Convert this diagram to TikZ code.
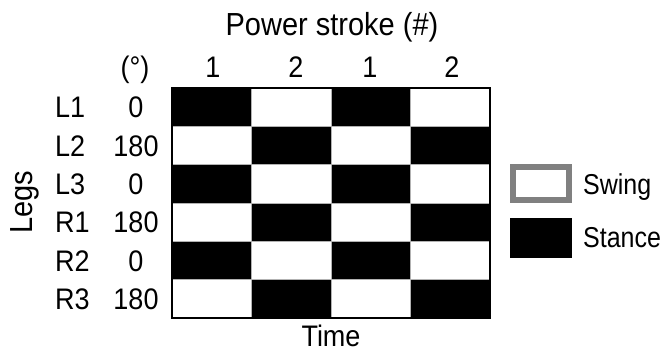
\documentclass[tikz,border=0pt]{standalone}
\usepackage{graphicx}
\usepackage{fontspec}
\setmainfont{Liberation Sans}
\newcommand{\tallt}[2][1.1]{\scalebox{1}[#1]{#2}}
\begin{document}
\begin{tikzpicture}[x=1bp,y=-1bp,
  lbl/.style={font=\fontsize{27bp}{32bp}\selectfont, inner sep=0pt, anchor=base},
  lblw/.style={lbl, anchor=base west},
  biglbl/.style={lbl, font=\fontsize{29bp}{34bp}\selectfont},
  leglbl/.style={lblw, font=\fontsize{25bp}{30bp}\selectfont},
  stancecell/.style={fill=black},
  gridline/.style={draw=gray!60, line width=0.8bp},
  frame/.style={draw=black, line width=2bp}]
\useasboundingbox (0,0) rectangle (661,351);
\fill[white] (0,0) rectangle (661,351);
% cells
\def\cw{79.5}
\def\rh{38.333}
\foreach \i in {0,...,5}{
  \foreach \j in {0,...,3}{
    \pgfmathtruncatemacro{\cellpar}{mod(\i+\j,2)}
    \ifnum\cellpar=0
      \fill[stancecell] ({172+\j*\cw},{88+\i*\rh}) rectangle ({172+(\j+1)*\cw},{88+(\i+1)*\rh});
    \fi
  }
}
\foreach \j in {1,2,3}{
  \draw[gridline] ({172+\j*\cw},88) -- ({172+\j*\cw},318);
}
\foreach \i in {1,...,5}{
  \draw[gridline] (172,{88+\i*\rh}) -- (490,{88+\i*\rh});
}
\draw[frame] (172,88) rectangle (490,318);
% titles
\node[biglbl] (title) at (332,35) {\tallt{Power stroke (\#)}};
\node[lbl] (time) at (331,346) {\tallt{Time}};
\node[biglbl, rotate=90] (legs) at (32,202) {\tallt{Legs}};
% column headers
\node[lbl] (deg) at (135,77) {\tallt{(°)}};
\node[lbl] (c1) at (213,77) {\tallt{1}};
\node[lbl] (c2) at (296,77) {\tallt{2}};
\node[lbl] (c3) at (370,77) {\tallt{1}};
\node[lbl] (c4) at (452,77) {\tallt{2}};
% row labels
\foreach \name/\ph [count=\k from 0] in {L1/0,L2/180,L3/0,R1/180,R2/0,R3/180}{
  \node[lblw] (leg\name) at (55,{88+(\k+0.5)*\rh+10.5}) {\tallt{\name}};
  \node[lbl] (ph\name) at (136,{88+(\k+0.5)*\rh+10.5}) {\tallt{\ph}};
}
% legend
\draw[draw=gray, line width=6bp] (513,167) rectangle (569,200);
\fill[black] (510,218) rectangle (572,258);
\node[leglbl] (swing) at (583,194) {\tallt[1.15]{Swing}};
\node[leglbl] (stance) at (583,247) {\tallt[1.15]{Stance}};
\end{tikzpicture}
\end{document}
